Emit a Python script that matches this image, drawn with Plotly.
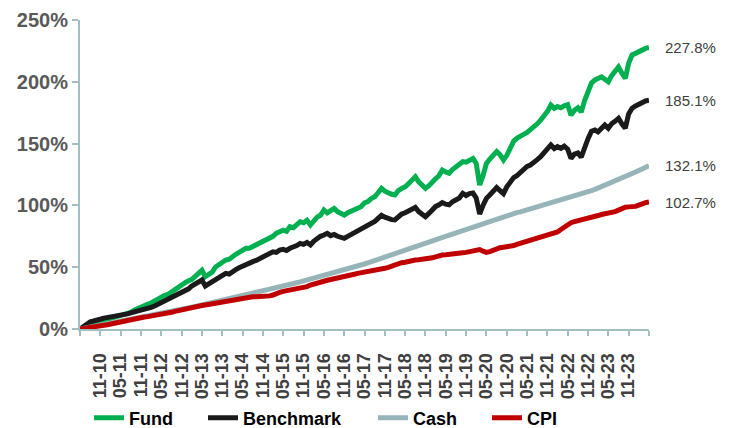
import pandas as pd
import plotly.graph_objects as go

# Monthly cumulative returns (%) from 2010-05 to 2024-05
start_month = "2010-05"

fund = [
    0, 0.8, 2.0, 2.6, 4.0, 5.2, 6.0, 6.4, 7.5, 8.0, 8.6, 9.8,
    11.0, 11.5, 12.8, 13.5, 15.2, 16.7, 17.5, 19.0, 20.2, 21.0, 22.8, 24.8,
    25.5, 27.2, 28.0, 30.1, 32.0, 34.2, 35.0, 37.5, 39.0, 40.0, 42.5, 44.8,
    47.5, 42.3, 44.5, 46.0, 50.2, 52.5, 53.8, 55.8, 56.5, 59.0, 60.4, 62.0,
    63.5, 65.3, 65.3, 66.8, 68.5, 70.0, 71.2, 72.0, 74.0, 75.0, 77.5, 78.7,
    80.0, 79.0, 82.8, 82.0, 84.5, 86.8, 86.0, 88.0, 84.1, 87.5, 90.5, 92.0,
    96.3, 94.0, 95.5, 97.6, 95.0, 93.0, 92.2, 94.0, 95.2, 96.0, 97.5, 98.9,
    102.0, 103.0, 105.5, 107.0, 110.2, 113.8, 111.5, 110.0, 109.0, 108.4, 112.0, 113.8,
    115.0, 117.5, 120.0, 123.2, 119.0, 116.0, 113.8, 116.0, 119.5, 121.5, 124.0, 128.6,
    127.0, 126.0, 129.0, 131.3, 132.5, 135.4, 135.0, 136.7, 138.0, 134.0, 116.5, 124.0,
    134.0, 137.5, 140.0, 143.5, 141.0, 136.7, 140.5, 147.0, 152.0, 154.3, 155.5, 157.5,
    159.0, 161.0, 164.0, 166.0, 169.0, 172.0, 176.0, 181.2, 178.5, 180.0, 179.0, 180.5,
    181.5, 173.0, 177.0, 179.0, 175.5, 185.0, 192.0, 199.0, 201.5, 203.0, 204.0, 202.0,
    200.0, 205.0, 208.0, 212.0, 207.0, 202.8, 215.0, 221.7, 223.0, 224.5, 226.0, 227.0,
    227.8,
]

benchmark = [
    0, 2.0, 4.0, 5.9, 6.5, 7.8, 8.0, 8.8, 9.2, 9.8, 10.2, 10.8,
    11.3, 11.6, 12.2, 13.0, 13.6, 14.3, 14.8, 15.4, 16.8, 17.5, 18.6, 20.0,
    21.0, 22.1, 23.5, 25.2, 26.8, 28.0, 29.8, 31.6, 32.5, 34.8, 36.5, 38.0,
    39.6, 34.8, 36.5, 38.5, 40.5, 42.0, 43.5, 45.0, 44.5, 46.5, 48.0, 49.5,
    51.0, 52.5, 53.0, 54.5, 55.5, 57.0, 58.5, 59.0, 60.5, 62.5, 62.0, 63.9,
    64.5, 63.5, 65.3, 66.0, 67.5, 69.3, 68.5, 70.0, 68.0, 71.0, 73.5, 75.0,
    76.0, 77.4, 75.5, 76.5, 75.0, 74.0, 73.4, 75.0, 76.5, 77.5, 79.0, 80.5,
    82.0, 83.0, 85.0, 87.0, 89.5, 92.0, 90.5, 89.0, 88.5, 88.2, 91.0, 93.0,
    94.0, 95.5, 97.0, 98.3, 95.0, 93.0, 90.9, 93.5, 96.5, 99.0, 100.5, 102.3,
    101.0, 100.5, 103.0, 104.4, 106.0, 109.8, 108.0, 109.5, 110.0, 106.0, 93.0, 100.0,
    105.7, 108.4, 111.0, 114.4, 112.0, 109.5, 115.0, 119.5, 122.5, 124.0, 126.5, 130.0,
    131.5, 132.7, 134.5, 137.0, 139.4, 143.0, 146.5, 148.9, 146.0, 147.5, 146.2, 148.0,
    145.5, 138.1, 141.5, 142.5, 139.0, 148.0, 154.0, 160.0, 161.0, 159.5, 163.0, 165.0,
    162.4, 166.0, 168.0, 170.5, 166.0, 162.4, 174.0, 178.6, 180.5, 182.0, 183.5, 184.5,
    185.1,
]

cash = [
    0, 0.5, 1.0, 1.5, 2.0, 2.5, 3.0, 3.5, 4.0, 4.5, 5.1, 5.6,
    6.1, 6.6, 7.2, 7.7, 8.2, 8.8, 9.3, 9.8, 10.4, 10.9, 11.5, 12.0,
    12.6, 13.2, 13.7, 14.3, 14.9, 15.4, 16.0, 16.6, 17.2, 17.7, 18.3, 18.9,
    19.5, 20.1, 20.7, 21.3, 21.9, 22.5, 23.1, 23.7, 24.3, 25.0, 25.6, 26.3,
    27.0, 27.6, 28.2, 28.9, 29.5, 30.2, 30.8, 31.4, 32.1, 32.7, 33.3, 34.0,
    34.6, 35.3, 36.0, 36.7, 37.4, 38.1, 38.8, 39.5, 40.3, 41.0, 41.7, 42.5,
    43.2, 44.0, 44.7, 45.5, 46.2, 47.0, 47.8, 48.6, 49.4, 50.2, 51.0, 51.8,
    52.6, 53.5, 54.4, 55.3, 56.2, 57.1, 58.0, 58.9, 59.9, 60.8, 61.7, 62.6,
    63.6, 64.5, 65.5, 66.4, 67.4, 68.3, 69.3, 70.2, 71.2, 72.1, 73.1, 74.0,
    75.0, 76.0, 77.0, 78.0, 79.0, 80.0, 81.0, 82.0, 83.0, 84.0, 85.0, 85.9,
    86.8, 87.7, 88.5, 89.4, 90.2, 91.0, 91.8, 92.6, 93.3, 94.1, 94.8, 95.6,
    96.3, 97.0, 97.7, 98.4, 99.2, 99.9, 100.6, 101.4, 102.1, 102.9, 103.7, 104.5,
    105.3, 106.2, 107.1, 108.0, 109.0, 110.0, 111.0, 112.0, 113.0, 114.0, 115.1, 116.1,
    117.2, 118.4, 119.6, 120.8, 122.0, 123.2, 124.5, 125.7, 127.0, 128.3, 129.6, 130.8,
    132.1,
]

cpi = [
    0, 0.3, 0.5, 1.0, 1.5, 1.9, 2.7, 3.0, 3.4, 4.0, 4.6, 5.2,
    6.0, 6.5, 6.9, 7.5, 8.2, 8.7, 9.2, 9.7, 10.0, 10.4, 10.9, 11.2,
    11.6, 12.2, 12.8, 13.5, 14.3, 15.0, 15.6, 16.1, 16.6, 17.4, 18.2, 18.6,
    19.0, 19.4, 19.9, 20.5, 20.8, 21.3, 21.8, 22.5, 23.2, 23.8, 24.2, 24.5,
    24.8, 25.3, 25.6, 26.0, 26.1, 26.2, 26.3, 26.2, 26.8, 27.5, 28.9, 29.6,
    30.5, 31.0, 31.3, 31.8, 32.4, 32.9, 33.4, 34.3, 35.6, 36.5, 37.5, 38.2,
    38.8, 39.4, 40.0, 40.5, 41.0, 41.6, 42.5, 42.9, 43.5, 44.3, 45.0, 45.4,
    45.8, 46.3, 46.9, 47.5, 48.2, 48.7, 49.1, 49.9, 51.0, 52.5, 53.2, 53.6,
    54.0, 54.8, 55.5, 55.8, 56.0, 56.3, 56.5, 57.0, 57.6, 58.4, 59.4, 59.8,
    60.0, 60.5, 60.8, 61.0, 61.4, 61.7, 62.0, 62.8, 63.5, 64.0, 64.3, 63.0,
    62.0, 62.6, 64.0, 65.3, 65.8, 66.2, 66.5, 66.8, 67.5, 68.5, 69.4, 69.9,
    70.5, 71.5, 72.3, 73.0, 74.2, 75.0, 75.8, 76.8, 77.7, 78.5, 80.5, 82.5,
    84.0, 86.0, 86.8, 87.5, 88.0, 88.4, 88.8, 89.6, 90.8, 91.8, 92.6, 93.1,
    93.6, 94.2, 95.0, 96.2, 97.6, 98.5, 98.8, 98.9, 99.2, 100.2, 101.6, 102.2,
    102.7,
]

tick_labels = [
    "11-10", "05-11", "11-11", "05-12", "11-12", "05-13", "11-13", "05-14",
    "11-14", "05-15", "11-15", "05-16", "11-16", "05-17", "11-17", "05-18",
    "11-18", "05-19", "11-19", "05-20", "11-20", "05-21", "11-21", "05-22",
    "11-22", "05-23", "11-23",
]

series_names = ["Fund", "Benchmark", "Cash", "CPI"]
series_values = [fund, benchmark, cash, cpi]
series_colors = ["#00B050", "#1A1A1A", "#97B4B8", "#C00000"]
legend_px = [89, 203, 373, 487]  # left edge of each legend entry (px)

W, H = 732, 428

dates = pd.period_range(start_month, periods=len(fund), freq="M").to_timestamp(how="end").normalize()


def label_to_date(lbl):
    mm, yy = lbl.split("-")
    return pd.Period(f"20{yy}-{mm}", freq="M").to_timestamp(how="end").normalize()


tick_vals = [dates[0]] + [label_to_date(l) for l in tick_labels] + [dates[-1]]
tick_text = [""] + tick_labels + [""]

FONT = "Liberation Sans, Arial, sans-serif"
AXIS_COLOR = "#A3BFC2"

fig = go.Figure()
legends = {}
for i, (name, vals, col) in enumerate(zip(series_names, series_values, series_colors)):
    lname = "legend" if i == 0 else f"legend{i + 1}"
    fig.add_trace(go.Scatter(
        x=dates, y=vals, name=name, mode="lines",
        line=dict(color=col, width=5),
        legend=lname,
    ))
    legends[lname] = dict(
        orientation="h", xref="container", yref="container",
        x=legend_px[i] / W, xanchor="left",
        y=10 / H, yanchor="middle", bgcolor="rgba(0,0,0,0)",
        font=dict(family=FONT, size=18, color="#000000", weight="bold"),
        itemwidth=30,
    )

for vals in series_values:
    fig.add_annotation(
        x=dates[-1], y=vals[-1], text=f"{vals[-1]:.1f}%",
        xanchor="left", yanchor="middle", xshift=14, showarrow=False,
        font=dict(family=FONT, size=15, color="#404040"),
    )

fig.update_layout(
    width=W, height=H,
    margin=dict(l=80, r=83, t=20, b=99),
    paper_bgcolor="white", plot_bgcolor="white",
    font=dict(family=FONT),
    showlegend=True,
    xaxis=dict(
        range=[dates[0], dates[-1]], automargin=False,
        tickmode="array", tickvals=tick_vals, ticktext=tick_text,
        tickangle=-90,
        tickfont=dict(family=FONT, size=18, color="#404040", weight="bold"),
        showgrid=False, zeroline=False,
        showline=True, linecolor=AXIS_COLOR, linewidth=2,
        ticks="outside", ticklen=5, tickcolor=AXIS_COLOR, tickwidth=2,
        ticklabelstandoff=10,
    ),
    yaxis=dict(
        range=[0, 250], automargin=False,
        tickmode="linear", tick0=0, dtick=50, ticksuffix="%",
        tickfont=dict(family=FONT, size=20, color="#595959", weight="bold"),
        showgrid=False, zeroline=False,
        showline=True, linecolor=AXIS_COLOR, linewidth=2,
        ticks="outside", ticklen=6, tickcolor=AXIS_COLOR, tickwidth=2,
        ticklabelstandoff=0,
    ),
    **legends,
)

fig.write_html(
    "out.html",
    config={"displayModeBar": False},
    post_script="document.body.style.margin='0';document.body.style.overflow='hidden';",
)
